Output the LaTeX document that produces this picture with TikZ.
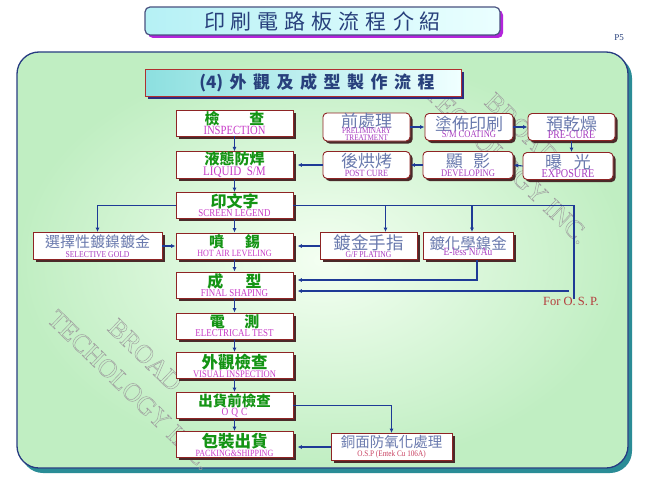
\documentclass[tikz,border=0pt]{standalone}
\usepackage{fontspec}
\setmainfont{Liberation Serif}
\newfontfamily\cjk{Noto Sans CJK TC}
\newfontfamily\enf[FakeStretch=0.85]{Liberation Serif}
\usetikzlibrary{shadows,arrows.meta,calc}

\definecolor{lineblue}{HTML}{1E3A96}
\definecolor{boxred}{HTML}{8E2424}
\definecolor{boxshadow}{HTML}{4A2A2A}
\definecolor{zgreen}{HTML}{149414}
\definecolor{zblue}{HTML}{6A7AAE}
\definecolor{emag}{HTML}{C83CC8}
\definecolor{eviol}{HTML}{A83CC0}
\definecolor{ered}{HTML}{C84060}
\definecolor{panelin}{HTML}{F4FFF2}
\definecolor{panelout}{HTML}{C0EEC2}
\definecolor{panelline}{HTML}{283C82}
\definecolor{panelshadow}{HTML}{2A8C96}
\definecolor{titleblue}{HTML}{28407C}
\definecolor{titleline}{HTML}{4A5280}
\definecolor{titleshadow}{HTML}{B424DC}
\definecolor{subshadow}{HTML}{2C2C80}
\definecolor{subline}{HTML}{B03030}
\definecolor{ospred}{HTML}{B43C3C}
\definecolor{wmgray}{HTML}{A0A0A0}

\newcommand\zhG[2][15]{{\cjk\bfseries\fontsize{#1}{#1}\selectfont\color{zgreen}#2}}
\newcommand\zhB[2][16]{{\cjk\fontsize{#1}{#1}\selectfont\color{zblue}#2}}
\newcommand\enM[2][10]{{\enf\fontsize{#1}{#1}\selectfont\color{emag}#2}}
\newcommand\enV[2][10]{{\enf\fontsize{#1}{#1}\selectfont\color{eviol}#2}}
\newcommand\enR[2][9]{{\enf\fontsize{#1}{#1}\selectfont\color{ered}#2}}
\newcommand\tgap{\hspace{6pt}}
\newcommand\sgap{\hspace{6.5pt}}
\newcommand\hollow[1]{\special{pdf:code 1 Tr 0.45 w}#1\special{pdf:code 0 Tr}}

\tikzset{
  boxshad/.style={drop shadow={shadow xshift=2.5pt,shadow yshift=-2.5pt,fill=boxshadow,opacity=1}},
  mainbox/.style={draw=boxred,line width=0.9pt,fill=white,minimum width=117pt,minimum height=26pt,
    inner sep=0pt,align=center,font=\fontsize{10}{9}\selectfont,boxshad},
  rbox/.style={mainbox,rounded corners=4pt,minimum height=27pt},
  sbox/.style={mainbox,minimum height=27pt},
  conn/.style={draw=lineblue,line width=1.1pt,-{Latex[length=4.5pt,width=4pt]}},
  connend/.style={conn,shorten >=4pt},
  plain/.style={draw=lineblue,line width=1.1pt},
  wm/.style={text=wmgray,inner sep=0pt,font=\fontsize{26}{26}\selectfont,rotate=-44},
}

\begin{document}
\begin{tikzpicture}[x=1pt,y=-1pt]
\useasboundingbox (0,0) rectangle (650,487);
\fill[white] (0,0) rectangle (650,487);

% main panel
\fill[panelshadow,rounded corners=22pt] (21,56) rectangle (632,473);
\shade[rounded corners=22pt,inner color=panelin,outer color=panelout] (17,52) rectangle (628,468);
\draw[panelline,line width=1.3pt,rounded corners=22pt] (17,52) rectangle (628,468);

% watermarks
\node[wm] (wma) at (507,164) {\hollow{TECHOLOGY INC.}};
\node[wm] (wmb) at (522,129) {\hollow{BROAD}};
\node[wm] (wmc) at (130,390) {\hollow{TECHOLOGY INC.}};
\node[wm] (wmd) at (145,355) {\hollow{BROAD}};

% title
\node[draw=titleline,line width=1.2pt,rounded corners=5pt,left color=titleblue!25!cyan!30,right color=cyan!8,
      minimum width=355pt,minimum height=28pt,inner sep=0pt,
      drop shadow={shadow xshift=3pt,shadow yshift=-3pt,fill=titleshadow,opacity=1}] (title) at (322.5,21)
  {\cjk\fontsize{21}{21}\selectfont\color{titleblue}印\tgap 刷\tgap 電\tgap 路\tgap 板\tgap 流\tgap 程\tgap 介\tgap 紹};
\node[inner sep=0pt,font=\fontsize{9}{9}\selectfont,text=titleblue] (pnum) at (619,38) {P5};

% subtitle
\node[draw=subline,line width=1pt,left color=cyan!45!teal!45,right color=cyan!6,
      minimum width=316pt,minimum height=27pt,inner sep=0pt,
      drop shadow={shadow xshift=2.5pt,shadow yshift=-3pt,fill=subshadow,opacity=1}] (sub) at (303,82.5)
  {\hspace*{28pt}\cjk\bfseries\fontsize{17}{17}\selectfont\color{titleblue}(4)\sgap 外\sgap 觀\sgap 及\sgap 成\sgap 型\sgap 製\sgap 作\sgap 流\sgap 程};

% main column
\node[mainbox] (chk) at (234.5,123) {\zhG{檢\hspace{2em}查}\\\enM[12.5]{INSPECTION}};
\node[mainbox] (liq) at (234.5,165) {\zhG{液態防焊}\\\enM[13]{LIQUID\ \ S/M}};
\node[mainbox] (leg) at (234.5,205.5) {\zhG[16]{印文字}\\\enM[10.5]{SCREEN LEGEND}};
\node[mainbox] (hal) at (234.5,246) {\zhG{噴\hspace{1.4em}錫}\\\enM[9.5]{HOT AIR LEVELING}};
\node[mainbox] (shp) at (234.5,285) {\zhG[16]{成\hspace{1.4em}型}\\\enM[10.5]{FINAL SHAPING}};
\node[mainbox] (et) at (234.5,326) {\zhG{電\hspace{1.3em}測}\\\enM[10.5]{ELECTRICAL TEST}};
\node[mainbox] (vis) at (234.5,365.5) {\zhG[16.5]{外觀檢查}\\\enM[10]{VISUAL INSPECTION}};
\node[mainbox] (oqc) at (234.5,405.5) {\zhG[14.5]{出貨前檢查}\\\enM[11]{O\hspace{3pt}Q\hspace{3pt}C}};
\node[mainbox] (pck) at (234.5,444.5) {\zhG[16.5]{包裝出貨}\\\enM[9.5]{PACKING\&SHIPPING}};

% solder mask sub-process
\node[rbox,minimum width=87pt,minimum height=28pt] (pre) at (366.5,127) {\zhB[17]{前處理}\\[-3pt]\enV[8.5]{PRELIMINARY}\\[-2pt]\enV[8.5]{TREATMENT}};
\node[rbox,minimum width=88pt] (coat) at (469,127) {\zhB[17]{塗佈印刷}\\[-2pt]\enV[10]{S/M COATING}};
\node[rbox,minimum width=87pt] (cure) at (571.5,127) {\zhB[17]{預乾燥}\\[-2pt]\enV[11.5]{PRE-CURE}};
\node[rbox,minimum width=87pt] (post) at (366.5,165) {\zhB[17]{後烘烤}\\\enV[9.5]{POST CURE}};
\node[rbox,minimum width=90pt] (dev) at (468,165) {\zhB[17]{顯\hspace{0.6em}影}\\\enV[10]{DEVELOPING}};
\node[rbox,minimum width=90pt] (exp) at (568,166) {\zhB[17]{曝\hspace{0.7em}光}\\[-2pt]\enV[12]{EXPOSURE}};

% surface finish branches
\node[sbox,minimum width=129pt] (sel) at (97.5,246) {\zhB[15]{選擇性鍍鎳鍍金}\\[1pt]\enV[9]{SELECTIVE GOLD}};
\node[sbox,minimum width=97pt] (gf) at (368.5,246) {\zhB[17.5]{鍍金手指}\\[-1pt]\enV[9]{G/F PLATING}};
\node[sbox,minimum width=90pt] (enia) at (468,246) {\zhB[15.5]{鍍化學鎳金}\\[-3pt]\enV[11]{E-less Ni/Au}};
\node[sbox,minimum width=121pt] (cu) at (391.5,447) {\zhB[14.5]{銅面防氧化處理}\\\enR[8.5]{O.S.P (Entek Cu 106A)}};

\node[inner sep=0pt,text=ospred,font=\fontsize{12.5}{12.5}\selectfont] (osptxt) at (571,301) {For O.\,S.\,P.};

% main chain
\foreach \a/\b in {chk/liq,liq/leg,leg/hal,hal/shp,shp/et,et/vis,vis/oqc,oqc/pck}
  \draw[conn] (\a.south) -- (\b.north);

% solder mask loop
\draw[conn] (pre.east) -- (coat.west);
\draw[conn] (coat.east) -- (cure.west);
\draw[conn] (cure.south) -- (cure.south |- exp.north);
\draw[conn] (exp.west) -- (dev.east);
\draw[conn] (dev.west) -- (post.east);
\draw[connend] (post.west) -- (post.west -| liq.east);

% legend branches
\draw[conn] (leg.west) -| (sel.north);
\draw[conn] (sel.east) -- (hal.west);
\coordinate (ospT) at (574,299);
\coordinate (ospA) at (569,291);
\draw[plain] (leg.east) -| (ospT);
\draw[connend] (ospA) -- (ospA -| shp.east);
\draw[conn] ([xshift=17pt]gf.north |- leg.east) -- ([xshift=17pt]gf.north);
\draw[conn] ([xshift=4pt]enia.north |- leg.east) -- ([xshift=4pt]enia.north);
\draw[connend] (gf.west) -- (gf.west -| hal.east);
\draw[connend] ([xshift=9pt]enia.south) |- ([yshift=5pt]shp.east);

% OSP branch
\draw[conn] (oqc.east) -| (cu.north);
\draw[connend] (cu.west) -- (cu.west -| pck.east);
\end{tikzpicture}
\end{document}
